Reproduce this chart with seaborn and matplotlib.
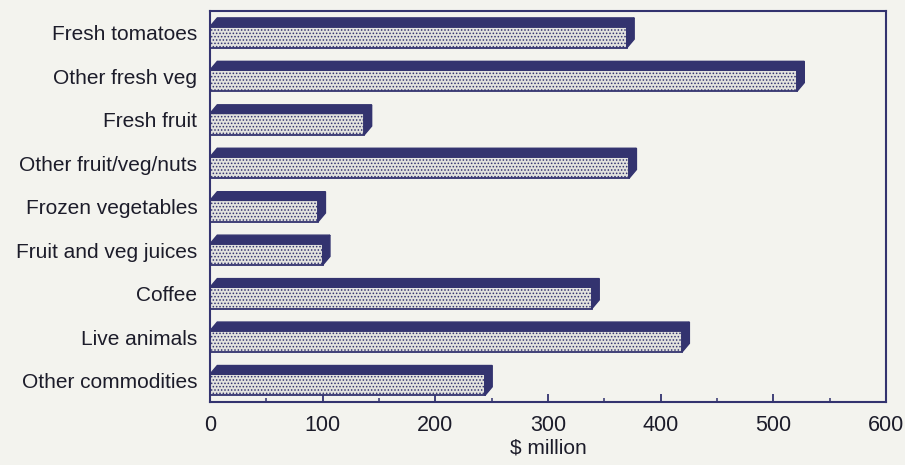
import matplotlib
matplotlib.use('Agg')
import matplotlib.pyplot as plt
from matplotlib.patches import Polygon
from matplotlib.ticker import MultipleLocator
import seaborn as sns
import pandas as pd

categories = ['Fresh tomatoes', 'Other fresh veg', 'Fresh fruit', 'Other fruit/veg/nuts',
              'Frozen vegetables', 'Fruit and veg juices', 'Coffee', 'Live animals',
              'Other commodities']
values = [370, 521, 137, 372, 96, 100, 339, 419, 244]
x_ticks = [0, 100, 200, 300, 400, 500, 600]

NAVY = '#33336f'
FACE = '#e2e2de'
BG = '#f3f3ee'
TEXT = '#1c1c2a'

sns.set_style('ticks')
plt.rcParams['font.family'] = ['Liberation Sans', 'DejaVu Sans']
plt.rcParams['hatch.color'] = '#858585'
plt.rcParams['hatch.linewidth'] = 0.7

df = pd.DataFrame({'category': categories, 'value': values})

fig = plt.figure(figsize=(9.05, 4.65), dpi=100, facecolor=BG)
ax = fig.add_axes([0.232, 0.135, 0.747, 0.841])
ax.set_facecolor(BG)

sns.barplot(data=df, x='value', y='category', orient='h', width=0.49,
            color=FACE, edgecolor=NAVY, linewidth=1.3, saturation=1, ax=ax)

# 3D depth: shift face down, add top and right side
dxd = 6.5   # data units
dyd = 0.2   # category units
for p in ax.patches:
    p.set_hatch('.....')
    y = p.get_y() + dyd / 2
    p.set_y(y)
    h = p.get_height()
    x1 = p.get_x() + p.get_width()
    y_top, y_bot = y, y + h
    top = Polygon([(0, y_top), (dxd, y_top - dyd), (x1 + dxd, y_top - dyd), (x1, y_top)],
                  closed=True, facecolor=NAVY, edgecolor=NAVY, lw=1)
    side = Polygon([(x1, y_top), (x1 + dxd, y_top - dyd), (x1 + dxd, y_bot - dyd), (x1, y_bot)],
                   closed=True, facecolor=NAVY, edgecolor=NAVY, lw=1)
    ax.add_patch(top)
    ax.add_patch(side)

ax.set_xlim(0, 600)
ax.set_ylim(len(categories) - 0.5, -0.5)
ax.set_xticks(x_ticks)
ax.xaxis.set_minor_locator(MultipleLocator(50))
ax.tick_params(axis='x', which='major', direction='in', length=6, width=1.3,
               color=NAVY, labelsize=15.5, labelcolor=TEXT, pad=9)
ax.tick_params(axis='x', which='minor', direction='in', length=3, width=1.1, color=NAVY)
ax.tick_params(axis='y', length=0, labelsize=15, labelcolor=TEXT, pad=9)

ax.set_xlabel('$ million', fontsize=15, color=TEXT, labelpad=2)
ax.set_ylabel('')
for s in ax.spines.values():
    s.set_visible(True)
    s.set_color(NAVY)
    s.set_linewidth(1.5)

fig.savefig('out.png', dpi=100, facecolor=BG)
